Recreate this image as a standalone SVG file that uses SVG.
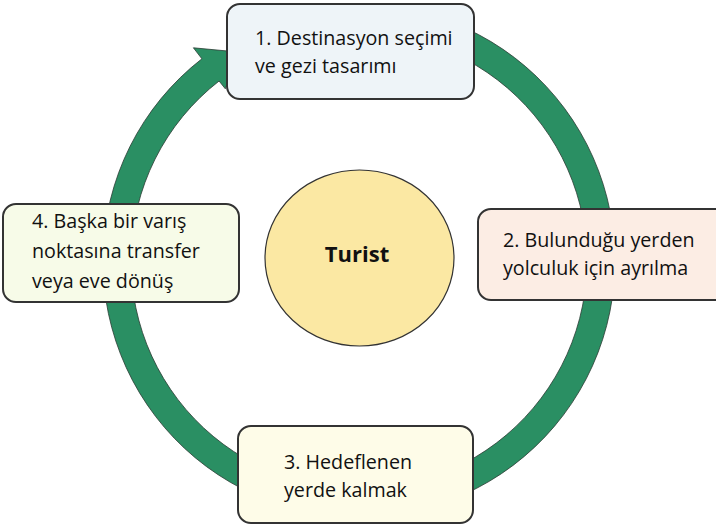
<svg xmlns="http://www.w3.org/2000/svg" width="716" height="527" viewBox="0 0 716 527">
<style>
.box{stroke:#333;stroke-width:2}
.t{font-family:"Open Sans","Noto Sans","Liberation Sans",sans-serif;font-size:19.7px;fill:#111}
.b{font-family:"Open Sans","Noto Sans","Liberation Sans",sans-serif;font-size:22px;font-weight:bold;fill:#111}
</style>
<rect width="716" height="527" fill="#fff"/>
<g id="connectors">
<path d="M425.3,13.7 A256,256 0 1 1 201.9,58.8 L193.4,47.8 L238,52 L225.3,88.8 L219.1,81.0 A228,228 0 1 0 418.0,40.8 Z" fill="#2a8f63" stroke="#2b3b33" stroke-width="0.8"/>
</g>
<g id="center">
<ellipse cx="359.5" cy="258" rx="94.5" ry="88" fill="#fbe8a3" stroke="#333" stroke-width="1.2"/>
<text class="b" x="357" y="262" text-anchor="middle">Turist</text>
</g>
<g id="n1">
<rect class="box" x="227" y="4" width="247" height="95" rx="13" fill="#eef4f8"/>
<text class="t" x="255" y="45">1. Destinasyon seçimi</text>
<text class="t" x="255" y="73">ve gezi tasarımı</text>
</g>
<g id="n2">
<rect class="box" x="478" y="209" width="250" height="91" rx="13" fill="#fcede4"/>
<text class="t" x="503" y="247">2. Bulunduğu yerden</text>
<text class="t" x="503" y="275">yolculuk için ayrılma</text>
</g>
<g id="n3">
<rect class="box" x="238" y="426" width="235" height="97" rx="13" fill="#fefce8"/>
<text class="t" x="284" y="469">3. Hedeflenen</text>
<text class="t" x="284" y="497">yerde kalmak</text>
</g>
<g id="n4">
<rect class="box" x="3" y="204" width="236" height="98" rx="13" fill="#f7fbe8"/>
<text class="t" x="32" y="228">4. Başka bir varış</text>
<text class="t" x="32" y="258">noktasına transfer</text>
<text class="t" x="32" y="288">veya eve dönüş</text>
</g>
</svg>
